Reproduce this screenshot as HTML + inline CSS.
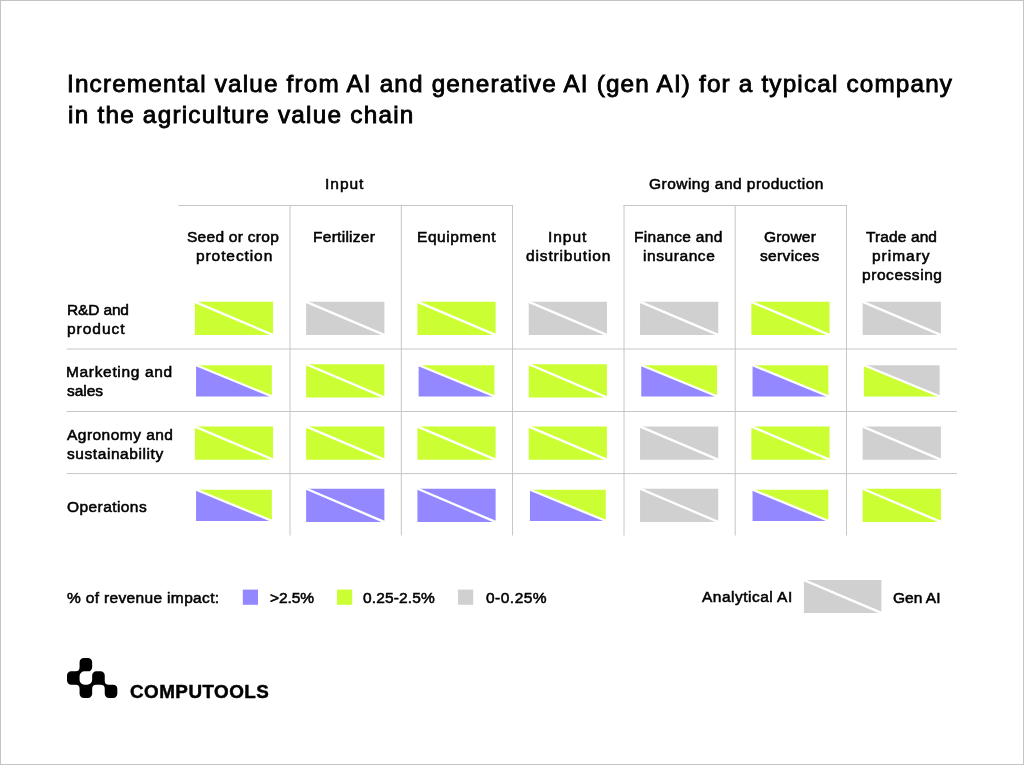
<!DOCTYPE html>
<html><head><meta charset="utf-8"><style>
html,body{margin:0;padding:0;background:#fff;}
body{width:1024px;height:765px;position:relative;overflow:hidden;}
.frame{position:absolute;left:0;top:0;width:1022px;height:763px;border:1px solid #c4c4c4;}
.t{position:absolute;font-family:"Liberation Sans",sans-serif;color:#000;white-space:nowrap;line-height:normal;-webkit-text-stroke:0.55px #000;will-change:transform;}
.ti{-webkit-text-stroke:0.85px #000;}
.lg{-webkit-text-stroke:0.45px #000;transform:scaleX(1.07);transform-origin:0 0;}
svg{position:absolute;left:0;top:0;}
</style></head><body>
<div class="frame"></div>
<svg width="1024" height="765" viewBox="0 0 1024 765">
<g stroke="#c6c6c6" stroke-width="1" fill="none">
<line x1="66.7" y1="349.0" x2="956.9" y2="349.0"/>
<line x1="66.7" y1="411.5" x2="956.9" y2="411.5"/>
<line x1="66.7" y1="473.6" x2="956.9" y2="473.6"/>
<line x1="178.3" y1="205.5" x2="513.0" y2="205.5"/>
<line x1="623.5" y1="205.5" x2="847.0" y2="205.5"/>
<line x1="290.0" y1="205" x2="290.0" y2="535.5"/>
<line x1="401.3" y1="205" x2="401.3" y2="535.5"/>
<line x1="512.5" y1="205" x2="512.5" y2="535.5"/>
<line x1="624.0" y1="205" x2="624.0" y2="535.5"/>
<line x1="735.2" y1="205" x2="735.2" y2="535.5"/>
<line x1="846.5" y1="205" x2="846.5" y2="535.5"/>
</g>
<path d="M194.85 301.80L194.85 335.00L273.05 335.00Z" fill="#ccff33"/><path d="M194.85 301.80L273.05 301.80L273.05 335.00Z" fill="#ccff33"/><line x1="193.85" y1="301.38" x2="274.05" y2="335.42" stroke="#fff" stroke-width="2.3"/>
<path d="M306.15 301.80L306.15 335.00L384.35 335.00Z" fill="#d0d0d0"/><path d="M306.15 301.80L384.35 301.80L384.35 335.00Z" fill="#d0d0d0"/><line x1="305.15" y1="301.38" x2="385.35" y2="335.42" stroke="#fff" stroke-width="2.3"/>
<path d="M417.45 301.80L417.45 335.00L495.65 335.00Z" fill="#ccff33"/><path d="M417.45 301.80L495.65 301.80L495.65 335.00Z" fill="#ccff33"/><line x1="416.45" y1="301.38" x2="496.65" y2="335.42" stroke="#fff" stroke-width="2.3"/>
<path d="M528.75 301.80L528.75 335.00L606.95 335.00Z" fill="#d0d0d0"/><path d="M528.75 301.80L606.95 301.80L606.95 335.00Z" fill="#d0d0d0"/><line x1="527.75" y1="301.38" x2="607.95" y2="335.42" stroke="#fff" stroke-width="2.3"/>
<path d="M640.05 301.80L640.05 335.00L718.25 335.00Z" fill="#d0d0d0"/><path d="M640.05 301.80L718.25 301.80L718.25 335.00Z" fill="#d0d0d0"/><line x1="639.05" y1="301.38" x2="719.25" y2="335.42" stroke="#fff" stroke-width="2.3"/>
<path d="M751.35 301.80L751.35 335.00L829.55 335.00Z" fill="#ccff33"/><path d="M751.35 301.80L829.55 301.80L829.55 335.00Z" fill="#ccff33"/><line x1="750.35" y1="301.38" x2="830.55" y2="335.42" stroke="#fff" stroke-width="2.3"/>
<path d="M862.65 301.80L862.65 335.00L940.85 335.00Z" fill="#d0d0d0"/><path d="M862.65 301.80L940.85 301.80L940.85 335.00Z" fill="#d0d0d0"/><line x1="861.65" y1="301.38" x2="941.85" y2="335.42" stroke="#fff" stroke-width="2.3"/>
<path d="M196.05 365.20L196.05 396.40L271.85 396.40Z" fill="#9388ff"/><path d="M196.05 365.20L271.85 365.20L271.85 396.40Z" fill="#ccff33"/><line x1="195.05" y1="364.79" x2="272.85" y2="396.81" stroke="#fff" stroke-width="2.3"/>
<path d="M306.15 364.20L306.15 397.40L384.35 397.40Z" fill="#ccff33"/><path d="M306.15 364.20L384.35 364.20L384.35 397.40Z" fill="#ccff33"/><line x1="305.15" y1="363.78" x2="385.35" y2="397.82" stroke="#fff" stroke-width="2.3"/>
<path d="M418.65 365.20L418.65 396.40L494.45 396.40Z" fill="#9388ff"/><path d="M418.65 365.20L494.45 365.20L494.45 396.40Z" fill="#ccff33"/><line x1="417.65" y1="364.79" x2="495.45" y2="396.81" stroke="#fff" stroke-width="2.3"/>
<path d="M528.75 364.20L528.75 397.40L606.95 397.40Z" fill="#ccff33"/><path d="M528.75 364.20L606.95 364.20L606.95 397.40Z" fill="#ccff33"/><line x1="527.75" y1="363.78" x2="607.95" y2="397.82" stroke="#fff" stroke-width="2.3"/>
<path d="M641.25 365.20L641.25 396.40L717.05 396.40Z" fill="#9388ff"/><path d="M641.25 365.20L717.05 365.20L717.05 396.40Z" fill="#ccff33"/><line x1="640.25" y1="364.79" x2="718.05" y2="396.81" stroke="#fff" stroke-width="2.3"/>
<path d="M752.55 365.20L752.55 396.40L828.35 396.40Z" fill="#9388ff"/><path d="M752.55 365.20L828.35 365.20L828.35 396.40Z" fill="#ccff33"/><line x1="751.55" y1="364.79" x2="829.35" y2="396.81" stroke="#fff" stroke-width="2.3"/>
<path d="M863.85 365.20L863.85 396.40L939.65 396.40Z" fill="#ccff33"/><path d="M863.85 365.20L939.65 365.20L939.65 396.40Z" fill="#d0d0d0"/><line x1="862.85" y1="364.79" x2="940.65" y2="396.81" stroke="#fff" stroke-width="2.3"/>
<path d="M194.85 426.50L194.85 459.70L273.05 459.70Z" fill="#ccff33"/><path d="M194.85 426.50L273.05 426.50L273.05 459.70Z" fill="#ccff33"/><line x1="193.85" y1="426.08" x2="274.05" y2="460.12" stroke="#fff" stroke-width="2.3"/>
<path d="M306.15 426.50L306.15 459.70L384.35 459.70Z" fill="#ccff33"/><path d="M306.15 426.50L384.35 426.50L384.35 459.70Z" fill="#ccff33"/><line x1="305.15" y1="426.08" x2="385.35" y2="460.12" stroke="#fff" stroke-width="2.3"/>
<path d="M417.45 426.50L417.45 459.70L495.65 459.70Z" fill="#ccff33"/><path d="M417.45 426.50L495.65 426.50L495.65 459.70Z" fill="#ccff33"/><line x1="416.45" y1="426.08" x2="496.65" y2="460.12" stroke="#fff" stroke-width="2.3"/>
<path d="M528.75 426.50L528.75 459.70L606.95 459.70Z" fill="#ccff33"/><path d="M528.75 426.50L606.95 426.50L606.95 459.70Z" fill="#ccff33"/><line x1="527.75" y1="426.08" x2="607.95" y2="460.12" stroke="#fff" stroke-width="2.3"/>
<path d="M640.05 426.50L640.05 459.70L718.25 459.70Z" fill="#d0d0d0"/><path d="M640.05 426.50L718.25 426.50L718.25 459.70Z" fill="#d0d0d0"/><line x1="639.05" y1="426.08" x2="719.25" y2="460.12" stroke="#fff" stroke-width="2.3"/>
<path d="M751.35 426.50L751.35 459.70L829.55 459.70Z" fill="#ccff33"/><path d="M751.35 426.50L829.55 426.50L829.55 459.70Z" fill="#ccff33"/><line x1="750.35" y1="426.08" x2="830.55" y2="460.12" stroke="#fff" stroke-width="2.3"/>
<path d="M862.65 426.50L862.65 459.70L940.85 459.70Z" fill="#d0d0d0"/><path d="M862.65 426.50L940.85 426.50L940.85 459.70Z" fill="#d0d0d0"/><line x1="861.65" y1="426.08" x2="941.85" y2="460.12" stroke="#fff" stroke-width="2.3"/>
<path d="M196.05 489.70L196.05 520.90L271.85 520.90Z" fill="#9388ff"/><path d="M196.05 489.70L271.85 489.70L271.85 520.90Z" fill="#ccff33"/><line x1="195.05" y1="489.29" x2="272.85" y2="521.31" stroke="#fff" stroke-width="2.3"/>
<path d="M306.15 488.70L306.15 521.90L384.35 521.90Z" fill="#9388ff"/><path d="M306.15 488.70L384.35 488.70L384.35 521.90Z" fill="#9388ff"/><line x1="305.15" y1="488.28" x2="385.35" y2="522.32" stroke="#fff" stroke-width="2.3"/>
<path d="M417.45 488.70L417.45 521.90L495.65 521.90Z" fill="#9388ff"/><path d="M417.45 488.70L495.65 488.70L495.65 521.90Z" fill="#9388ff"/><line x1="416.45" y1="488.28" x2="496.65" y2="522.32" stroke="#fff" stroke-width="2.3"/>
<path d="M529.95 489.70L529.95 520.90L605.75 520.90Z" fill="#9388ff"/><path d="M529.95 489.70L605.75 489.70L605.75 520.90Z" fill="#ccff33"/><line x1="528.95" y1="489.29" x2="606.75" y2="521.31" stroke="#fff" stroke-width="2.3"/>
<path d="M640.05 488.70L640.05 521.90L718.25 521.90Z" fill="#d0d0d0"/><path d="M640.05 488.70L718.25 488.70L718.25 521.90Z" fill="#d0d0d0"/><line x1="639.05" y1="488.28" x2="719.25" y2="522.32" stroke="#fff" stroke-width="2.3"/>
<path d="M752.55 489.70L752.55 520.90L828.35 520.90Z" fill="#9388ff"/><path d="M752.55 489.70L828.35 489.70L828.35 520.90Z" fill="#ccff33"/><line x1="751.55" y1="489.29" x2="829.35" y2="521.31" stroke="#fff" stroke-width="2.3"/>
<path d="M862.65 488.70L862.65 521.90L940.85 521.90Z" fill="#ccff33"/><path d="M862.65 488.70L940.85 488.70L940.85 521.90Z" fill="#ccff33"/><line x1="861.65" y1="488.28" x2="941.85" y2="522.32" stroke="#fff" stroke-width="2.3"/>
<rect x="242.8" y="589.6" width="15.2" height="15.2" fill="#9388ff"/>
<rect x="337" y="589.6" width="15.2" height="15.2" fill="#ccff33"/>
<rect x="458" y="589.6" width="15.2" height="15.2" fill="#d0d0d0"/>
<rect x="803.9" y="580.0" width="77.5" height="33.0" fill="#d0d0d0"/>
<line x1="802.90" y1="579.57" x2="882.40" y2="613.43" stroke="#fff" stroke-width="2.3"/>
<path fill="#000" d="M79.58 662.30 A4.2 4.2 0 0 1 83.78 658.10 L87.96 658.10 A4.2 4.2 0 0 1 92.16 662.30 L92.16 667.17 A4.2 4.2 0 0 1 87.96 671.37 L84.58 671.37 A5.0 5.0 0 0 0 79.58 676.37 L79.58 679.64 A5.0 5.0 0 0 0 84.58 684.64 L87.16 684.64 A5.0 5.0 0 0 0 92.16 679.64 L92.16 675.57 A4.2 4.2 0 0 1 96.36 671.37 L100.54 671.37 A4.2 4.2 0 0 1 104.74 675.57 L104.74 680.64 A4.0 4.0 0 0 0 108.74 684.64 L113.12 684.64 A4.2 4.2 0 0 1 117.32 688.84 L117.32 693.71 A4.2 4.2 0 0 1 113.12 697.91 L108.94 697.91 A4.2 4.2 0 0 1 104.74 693.71 L104.74 688.64 A4.0 4.0 0 0 0 100.74 684.64 L96.16 684.64 A4.0 4.0 0 0 0 92.16 688.64 L92.16 693.71 A4.2 4.2 0 0 1 87.96 697.91 L83.78 697.91 A4.2 4.2 0 0 1 79.58 693.71 L79.58 688.64 A4.0 4.0 0 0 0 75.58 684.64 L71.20 684.64 A4.2 4.2 0 0 1 67.00 680.44 L67.00 675.57 A4.2 4.2 0 0 1 71.20 671.37 L75.58 671.37 A4.0 4.0 0 0 0 79.58 667.37 Z"/>
</svg>
<div class="t ti" style="left:66.50px;top:70.31px;font-size:24.3px;letter-spacing:1.171px;font-weight:400;">Incremental value from AI and generative AI (gen AI) for a typical company</div>
<div class="t ti" style="left:67.50px;top:101.41px;font-size:24.3px;letter-spacing:1.241px;font-weight:400;">in the agriculture value chain</div>
<div class="t " style="left:325.40px;top:175.17px;font-size:15.5px;letter-spacing:0.975px;font-weight:400;">Input</div>
<div class="t " style="left:648.50px;top:175.17px;font-size:15.5px;letter-spacing:0.471px;font-weight:400;">Growing and production</div>
<div class="t " style="left:187.20px;top:228.37px;font-size:15.5px;letter-spacing:0.273px;font-weight:400;">Seed or crop</div>
<div class="t " style="left:195.80px;top:247.02px;font-size:15.5px;letter-spacing:0.91px;font-weight:400;">protection</div>
<div class="t " style="left:313.30px;top:228.37px;font-size:15.5px;letter-spacing:0.278px;font-weight:400;">Fertilizer</div>
<div class="t " style="left:416.60px;top:228.37px;font-size:15.5px;letter-spacing:0.562px;font-weight:400;">Equipment</div>
<div class="t " style="left:547.90px;top:228.37px;font-size:15.5px;letter-spacing:0.95px;font-weight:400;">Input</div>
<div class="t " style="left:525.70px;top:247.02px;font-size:15.5px;letter-spacing:0.855px;font-weight:400;">distribution</div>
<div class="t " style="left:634.30px;top:228.37px;font-size:15.5px;letter-spacing:0.3px;font-weight:400;">Finance and</div>
<div class="t " style="left:642.50px;top:247.02px;font-size:15.5px;letter-spacing:0.575px;font-weight:400;">insurance</div>
<div class="t " style="left:764.30px;top:228.37px;font-size:15.5px;letter-spacing:0.2px;font-weight:400;">Grower</div>
<div class="t " style="left:760.40px;top:247.02px;font-size:15.5px;letter-spacing:0.357px;font-weight:400;">services</div>
<div class="t " style="left:866.30px;top:228.37px;font-size:15.5px;letter-spacing:0.114px;font-weight:400;">Trade and</div>
<div class="t " style="left:872.20px;top:247.02px;font-size:15.5px;letter-spacing:0.983px;font-weight:400;">primary</div>
<div class="t " style="left:861.90px;top:265.67px;font-size:15.5px;letter-spacing:0.556px;font-weight:400;">processing</div>
<div class="t " style="left:66.60px;top:300.87px;font-size:15.5px;letter-spacing:-0.15px;font-weight:400;">R&amp;D and</div>
<div class="t " style="left:66.60px;top:319.67px;font-size:15.5px;letter-spacing:0.966px;font-weight:400;">product</div>
<div class="t " style="left:66.10px;top:363.17px;font-size:15.5px;letter-spacing:0.667px;font-weight:400;">Marketing and</div>
<div class="t " style="left:67.10px;top:381.97px;font-size:15.5px;letter-spacing:-0.05px;font-weight:400;">sales</div>
<div class="t " style="left:67.10px;top:425.77px;font-size:15.5px;letter-spacing:0.464px;font-weight:400;">Agronomy and</div>
<div class="t " style="left:67.10px;top:444.57px;font-size:15.5px;letter-spacing:0.57px;font-weight:400;">sustainability</div>
<div class="t " style="left:67.10px;top:497.57px;font-size:15.5px;letter-spacing:0.423px;font-weight:400;">Operations</div>
<div class="t " style="left:67.20px;top:588.77px;font-size:15.5px;letter-spacing:0.342px;font-weight:400;">% of revenue impact:</div>
<div class="t " style="left:269.50px;top:588.77px;font-size:15.5px;letter-spacing:-0.075px;font-weight:400;">&gt;2.5%</div>
<div class="t " style="left:363.40px;top:588.77px;font-size:15.5px;letter-spacing:0.15px;font-weight:400;">0.25-2.5%</div>
<div class="t " style="left:485.90px;top:588.77px;font-size:15.5px;letter-spacing:0.483px;font-weight:400;">0-0.25%</div>
<div class="t " style="left:701.90px;top:587.87px;font-size:15.5px;letter-spacing:0.484px;font-weight:400;">Analytical AI</div>
<div class="t " style="left:893.00px;top:588.87px;font-size:15.5px;letter-spacing:0.02px;font-weight:400;">Gen AI</div>
<div class="t lg" style="left:129.60px;top:681.67px;font-size:17.6px;letter-spacing:0.45px;font-weight:700;">COMPUTOOLS</div>
</body></html>
